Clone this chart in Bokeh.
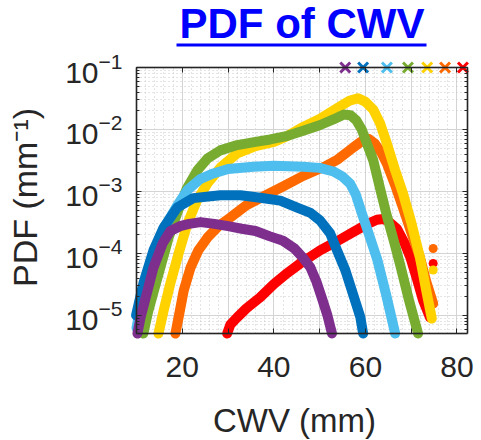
import math
from bokeh.plotting import figure
from bokeh.models import (Range1d, FixedTicker, LogTicker, Label, BoxAnnotation,
                          LinearAxis, LogAxis)
from bokeh.embed import file_html
from bokeh.resources import INLINE

# PDF of column water vapour, one curve per group (x in mm, PDF in mm^-1)
purple_x = [10.2, 10.9, 12.4, 13.7, 15.7, 17.4, 19.5, 21.5, 24.0, 27.0, 30.0, 33.0,
            36.0, 39.0, 42.0, 44.5, 46.5, 48.0, 49.3, 50.5, 51.7, 52.7]
purple_y = [5.1e-6, 9.3e-6, 2.5e-5, 5.9e-5, 1.45e-4, 2.3e-4, 2.75e-4, 3.0e-4, 3.2e-4, 3.0e-4,
            2.75e-4, 2.5e-4, 2.3e-4, 1.9e-4, 1.6e-4, 1.2e-4, 8.3e-5, 5.9e-5, 3.5e-5, 1.9e-5,
            1.0e-5, 5.1e-6]

blue_x = [9.9, 11.5, 13.7, 15.9, 18.9, 22.4, 28.3, 32.7, 37.0, 41.4, 45.1, 48.0, 50.1,
          52.3, 53.8, 55.6, 57.3, 58.9, 59.5]
blue_y = [1.0e-5, 3.3e-5, 1.12e-4, 2.6e-4, 5.5e-4, 7.8e-4, 8.7e-4, 8.7e-4, 7.9e-4, 7.1e-4,
          5.5e-4, 4.5e-4, 3.4e-4, 2.1e-4, 1.12e-4, 5.4e-5, 2.2e-5, 9.3e-6, 5.1e-6]

lightblue_x = [10.0, 11.5, 13.7, 15.9, 18.7, 21.1, 24.0, 26.8, 30.0, 35.5, 40.0, 46.4,
               50.0, 53.0, 55.0, 56.7, 57.9, 59.2, 60.8, 62.6, 64.5, 66.5]
lightblue_y = [6.3e-6, 2.5e-5, 1.0e-4, 2.5e-4, 5.6e-4, 1.05e-3, 1.6e-3, 1.95e-3, 2.3e-3,
               2.5e-3, 2.6e-3, 2.5e-3, 2.4e-3, 2.1e-3, 1.74e-3, 1.32e-3, 8.9e-4, 4.5e-4,
               2.0e-4, 7.9e-5, 2.2e-5, 5.1e-6]

green_x = [11.5, 12.5, 13.8, 15.2, 17.0, 18.9, 21.0, 23.3, 25.5, 28.3, 32.0, 36.0, 39.2,
           43.0, 46.4, 50.0, 53.0, 55.3, 56.7, 58.0, 59.2, 60.2, 61.7, 63.2, 64.7, 66.2,
           67.6, 69.5, 71.5]
green_y = [5.1e-6, 1.12e-5, 2.5e-5, 5.9e-5, 1.78e-4, 4.5e-4, 1.12e-3, 2.2e-3, 3.4e-3,
           4.6e-3, 5.6e-3, 6.3e-3, 6.9e-3, 7.9e-3, 9.5e-3, 1.17e-2, 1.45e-2, 1.74e-2,
           1.7e-2, 1.41e-2, 1.0e-2, 6.3e-3, 3.2e-3, 1.12e-3, 4.0e-4, 1.6e-4, 6.5e-5,
           1.78e-5, 5.1e-6]

yellow_x = [14.8, 16.0, 17.4, 19.2, 21.1, 23.2, 25.5, 28.5, 32.0, 36.0, 40.0, 43.0, 46.4,
            50.0, 53.8, 56.5, 58.4, 60.0, 61.7, 63.2, 64.7, 66.5, 68.2, 70.0, 71.9, 73.3,
            74.5]
yellow_y = [5.1e-6, 1.26e-5, 3.3e-5, 1.0e-4, 3.0e-4, 7.1e-4, 1.35e-3, 2.5e-3, 4.1e-3,
            5.4e-3, 6.3e-3, 7.9e-3, 1.1e-2, 1.48e-2, 2.2e-2, 2.9e-2, 3.2e-2, 2.8e-2, 2.1e-2,
            1.26e-2, 5.9e-3, 2.2e-3, 9.3e-4, 3.2e-4, 8.7e-5, 2.5e-5, 8.9e-6]

orange_x = [18.5, 19.2, 20.3, 21.8, 23.5, 25.5, 28.0, 30.5, 34.0, 37.7, 42.0, 46.4, 51.0,
            54.0, 57.3, 59.0, 60.6, 62.0, 63.5, 64.7, 66.5, 68.2, 70.0, 71.9, 73.3, 74.8]
orange_y = [5.1e-6, 9.3e-6, 2.5e-5, 5.9e-5, 1.12e-4, 1.8e-4, 2.8e-4, 3.8e-4, 6.0e-4,
            8.3e-4, 1.2e-3, 1.78e-3, 2.5e-3, 3.3e-3, 5.1e-3, 6.3e-3, 7.1e-3, 6.0e-3,
            4.2e-3, 2.8e-3, 1.26e-3, 5.5e-4, 2.2e-4, 8.7e-5, 3.5e-5, 1.55e-5]

red_x = [29.8, 30.5, 32.0, 34.0, 37.0, 40.0, 42.9, 46.0, 50.1, 54.0, 57.3, 60.5, 62.5,
         63.9, 65.0, 66.9, 68.5, 69.8, 71.2, 72.6, 74.1]
red_y = [5.1e-6, 7.1e-6, 9.3e-6, 1.3e-5, 1.95e-5, 3.2e-5, 4.8e-5, 7.1e-5, 1.12e-4,
         1.6e-4, 2.2e-4, 3.0e-4, 3.5e-4, 3.6e-4, 3.3e-4, 2.5e-4, 1.5e-4, 8.7e-5, 4.0e-5,
         1.74e-5, 9.3e-6]

# single outlying bins at the wet end
stray_x = [74.8, 74.8, 74.8]
stray_y = [1.2e-4, 6.9e-5, 5.4e-5]
stray_colors = ["#FF6A00", "#FF0000", "#FFD200"]

# group means shown as crosses along the top edge
mean_x = [55.6, 59.5, 64.7, 69.3, 73.5, 77.4, 81.3]
mean_y = [0.1, 0.1, 0.1, 0.1, 0.1, 0.1, 0.1]

colors = {
    "purple": "#7E2F8E", "blue": "#0072BD", "lightblue": "#4DBEEE",
    "green": "#77AC30", "yellow": "#FFD200", "orange": "#FF6A00", "red": "#FF0000",
}
mean_colors = [colors[k] for k in ["purple", "blue", "lightblue", "green",
                                   "yellow", "orange", "red"]]

FONT = "Liberation Sans"
INK = "#262626"
W, H = 481, 440

# axes box (data limits) and where it sits on the page, in pixels
X_LO, X_HI = 10, 82.3
Y_LO, Y_HI = 5.1e-6, 0.1
BOX_L, BOX_R, BOX_T, BOX_B = 136, 467, 67, 333

# the plotting frame covers the whole page so the title, axis titles and the
# crosses on the top edge are not cut; the ranges put the box where it belongs
px_per_x = (BOX_R - BOX_L) / (X_HI - X_LO)
px_per_dec = (BOX_B - BOX_T) / (math.log10(Y_HI) - math.log10(Y_LO))
x_range = Range1d(X_LO - BOX_L / px_per_x, X_HI + (W - BOX_R) / px_per_x)
y_range = Range1d(10 ** (math.log10(Y_LO) - (H - BOX_B) / px_per_dec),
                  10 ** (math.log10(Y_HI) + BOX_T / px_per_dec))

p = figure(width=W, height=H, y_axis_type="log", x_axis_location=None,
           y_axis_location=None, x_range=x_range, y_range=y_range,
           output_backend="svg", toolbar_location=None,
           min_border_left=0, min_border_right=0, min_border_top=0,
           min_border_bottom=0)
p.outline_line_color = None
p.background_fill_color = "white"
p.border_fill_color = "white"

x_ticks = [10, 20, 30, 40, 50, 60, 70, 80]
x_minor = [v for v in range(12, 82, 2) if v % 10 != 0]


def style_axis(ax):
    ax.axis_line_color = INK
    ax.axis_line_width = 1.5
    ax.major_tick_line_color = INK
    ax.minor_tick_line_color = INK
    ax.major_tick_in = 5
    ax.major_tick_out = 0
    ax.minor_tick_in = 3
    ax.minor_tick_out = 0
    ax.major_label_text_font = FONT
    ax.major_label_text_font_size = "30px"
    ax.major_label_text_color = INK


xaxis = LinearAxis(ticker=FixedTicker(ticks=x_ticks, minor_ticks=x_minor),
                   fixed_location=Y_LO, bounds=(X_LO, X_HI),
                   major_label_overrides={10: "", 30: "", 50: "", 70: ""})
style_axis(xaxis)
xaxis.minor_tick_in = 0
xaxis.major_label_standoff = 23
p.add_layout(xaxis, "below")

yaxis = LogAxis(ticker=LogTicker(desired_num_ticks=8, num_minor_ticks=10),
                fixed_location=X_LO, bounds=(Y_LO, Y_HI))
style_axis(yaxis)
yaxis.major_label_standoff = 14
p.add_layout(yaxis, "left")

# mirrored ticks on the top and right edges of the box
xtop = LinearAxis(ticker=FixedTicker(ticks=x_ticks, minor_ticks=[]),
                  fixed_location=Y_HI, bounds=(X_LO, X_HI))
style_axis(xtop)
xtop.minor_tick_in = 0
xtop.major_label_text_color = None
p.add_layout(xtop, "above")

yright = LogAxis(ticker=LogTicker(desired_num_ticks=8, num_minor_ticks=10),
                 fixed_location=X_HI, bounds=(Y_LO, Y_HI))
style_axis(yright)
yright.major_label_text_color = None
p.add_layout(yright, "right")

# grid: solid major lines, dotted minor lines, kept inside the axes box
p.xgrid.ticker = xaxis.ticker
p.ygrid.ticker = yaxis.ticker
p.xgrid.bounds = (X_LO, X_HI)
p.xgrid.cross_bounds = (Y_LO, Y_HI)
p.ygrid.bounds = (Y_LO, Y_HI)
p.ygrid.cross_bounds = (X_LO, X_HI)
for g in (p.xgrid[0], p.ygrid[0]):
    g.grid_line_color = "#d4d4d4"
    g.grid_line_width = 1
    g.minor_grid_line_color = "#c8c8c8"
    g.minor_grid_line_dash = "1 3"
    g.minor_grid_line_width = 1

# curves, wettest group first so the drier groups sit on top
series = [
    (red_x, red_y, colors["red"]),
    (orange_x, orange_y, colors["orange"]),
    (yellow_x, yellow_y, colors["yellow"]),
    (green_x, green_y, colors["green"]),
    (lightblue_x, lightblue_y, colors["lightblue"]),
    (blue_x, blue_y, colors["blue"]),
    (purple_x, purple_y, colors["purple"]),
]
for xs, ys, c in series:
    p.line(xs, ys, line_color=c, line_width=10, line_cap="round", line_join="round")

p.scatter(stray_x, stray_y, size=9, marker="circle", fill_color=stray_colors,
          line_color=None)

# axes box
p.add_layout(BoxAnnotation(left=X_LO, right=X_HI, bottom=Y_LO, top=Y_HI,
                           fill_alpha=0, line_color=INK, line_width=1.5))

p.scatter(mean_x, mean_y, marker="x", size=14, line_width=3, line_color=mean_colors)

# titles (screen units: origin at the bottom-left corner of the page)
p.add_layout(Label(x=301.5, y=H - 23, x_units="screen", y_units="screen",
                   text="PDF of CWV", text_align="center", text_baseline="alphabetic",
                   text_font=FONT, text_font_size="42px", text_font_style="bold",
                   text_color="#0000FF"))
p.add_layout(BoxAnnotation(left=176, right=426, bottom=H - 46, top=H - 43,
                           left_units="screen", right_units="screen",
                           bottom_units="screen", top_units="screen",
                           fill_color="#0000FF", fill_alpha=1, line_color=None))
p.add_layout(Label(x=294, y=H - 420, x_units="screen", y_units="screen",
                   text="CWV (mm)", text_align="center", text_baseline="alphabetic",
                   text_font=FONT, text_font_size="33px", text_color=INK))
p.add_layout(Label(x=24, y=H - 197, x_units="screen", y_units="screen",
                   text="PDF (mm\u207b\u00b9)", angle=90, angle_units="deg",
                   text_align="center", text_baseline="alphabetic",
                   text_font=FONT, text_font_size="34px", text_color=INK))

open("out.html", "w").write(file_html(p, INLINE))
